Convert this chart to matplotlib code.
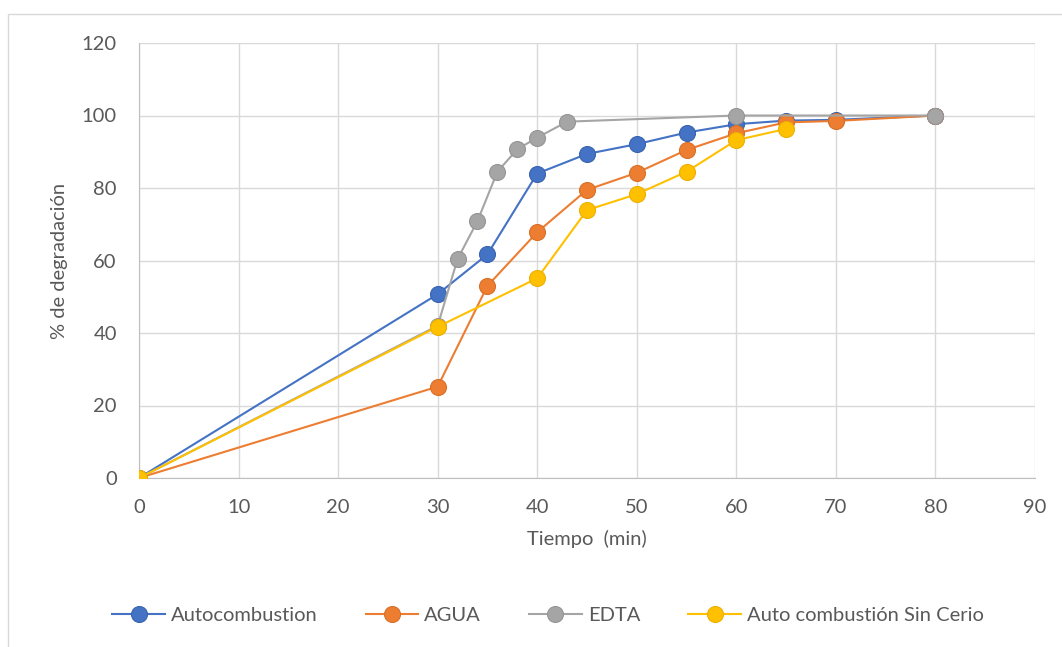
import matplotlib.pyplot as plt
from matplotlib.patches import Rectangle

plt.rcParams['font.family'] = ['Lato', 'DejaVu Sans']

# data
auto_x = [0, 30, 35, 40, 45, 50, 55, 60, 65, 70, 80]
auto_y = [0, 50.7, 61.7, 84.0, 89.4, 92.1, 95.3, 97.6, 98.6, 98.8, 100]

agua_x = [0, 30, 35, 40, 45, 50, 55, 60, 65, 70, 80]
agua_y = [0, 25.2, 53.0, 67.8, 79.5, 84.2, 90.5, 95.1, 98.1, 98.5, 100]

edta_x = [0, 30, 32, 34, 36, 38, 40, 43, 60, 80]
edta_y = [0, 42.0, 60.4, 70.9, 84.5, 90.7, 93.9, 98.3, 100, 100]

sin_x = [0, 30, 40, 45, 50, 55, 60, 65]
sin_y = [0, 41.7, 55.1, 73.9, 78.3, 84.5, 93.2, 96.3]

series = [
    ("Autocombustion", auto_x, auto_y, "#4472C4", "#3A64B0"),
    ("AGUA", agua_x, agua_y, "#ED7D31", "#D96F26"),
    ("EDTA", edta_x, edta_y, "#A5A5A5", "#959595"),
    ("Auto combustión Sin Cerio", sin_x, sin_y, "#FFC000", "#EDB000"),
]

text_col = "#595959"

fig = plt.figure(figsize=(10.62, 6.47), dpi=100)
ax = fig.add_axes([139 / 1062, 1 - 478 / 647, (1035 - 139) / 1062, (478 - 43) / 647])

for name, x, y, c, ec in series:
    ax.plot(x, y, color=c, lw=1.5, marker="o", markersize=11.5,
            markerfacecolor=c, markeredgecolor=ec, markeredgewidth=0.8,
            label=name, zorder=3)

ax.set_xlim(0, 90)
ax.set_ylim(0, 120)
ax.set_xticks(range(0, 91, 10))
ax.set_yticks(range(0, 121, 20))
ax.grid(True, color="#D9D9D9", lw=1)
ax.set_axisbelow(True)
for s in ["top", "right"]:
    ax.spines[s].set_visible(False)
ax.spines["left"].set_color("#BFBFBF")
ax.spines["bottom"].set_color("#BFBFBF")
ax.tick_params(length=0, labelsize=14.5, colors=text_col)
ax.tick_params(axis="x", pad=15)
ax.tick_params(axis="y", pad=16)
ax.set_xlabel("Tiempo  (min)", fontsize=14.5, color=text_col, labelpad=10)
ax.set_ylabel("% de degradación", fontsize=14.5, color=text_col, labelpad=10)

# legend sits centred on the chart area, not on the plot
ax.legend(loc="center", bbox_to_anchor=((548 - 139) / 896, -(615 - 478) / 435),
          ncol=4, frameon=False, fontsize=14.5, labelcolor=text_col,
          handlelength=2.6, columnspacing=2.4, handletextpad=0.3)

fig.patches.append(Rectangle((8 / 1062, -0.01), 1.1, 1 - 14 / 647 + 0.01,
                             transform=fig.transFigure, fill=False,
                             edgecolor="#D9D9D9", lw=1))

fig.savefig("out.png", dpi=100)
